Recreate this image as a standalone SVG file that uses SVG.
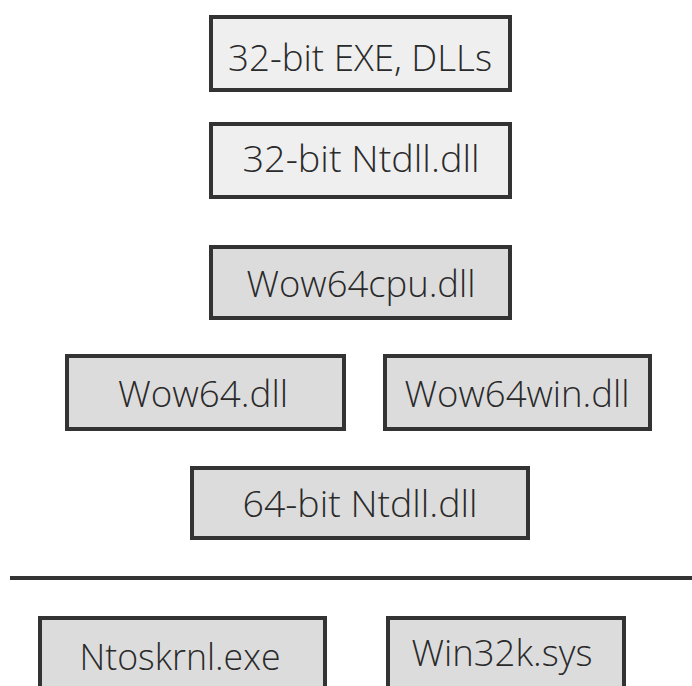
<svg xmlns="http://www.w3.org/2000/svg" width="692" height="686" viewBox="0 0 692 686">
<style>
.box{stroke:#333;stroke-width:4}
.light{fill:#efefef}
.dark{fill:#dcdcdc}
text{font-family:"Open Sans","Liberation Sans",sans-serif;font-size:36px;font-weight:300;fill:#2a2a2a;text-anchor:middle}
</style>
<rect width="692" height="686" fill="#fff"/>
<g id="exe32"><rect class="box light" x="211" y="17" width="299" height="73"/><text x="360" y="71" textLength="264" lengthAdjust="spacingAndGlyphs">32-bit EXE, DLLs</text></g>
<g id="ntdll32"><rect class="box light" x="211" y="124" width="299" height="73"/><text x="361" y="172" textLength="237" lengthAdjust="spacingAndGlyphs">32-bit Ntdll.dll</text></g>
<g id="wow64cpu"><rect class="box dark" x="211" y="247" width="299" height="71"/><text x="361" y="297" textLength="229" lengthAdjust="spacingAndGlyphs">Wow64cpu.dll</text></g>
<g id="wow64"><rect class="box dark" x="67" y="356" width="277" height="73"/><text x="203" y="407" textLength="170" lengthAdjust="spacingAndGlyphs">Wow64.dll</text></g>
<g id="wow64win"><rect class="box dark" x="385" y="356" width="265" height="73"/><text x="517" y="407" textLength="225" lengthAdjust="spacingAndGlyphs">Wow64win.dll</text></g>
<g id="ntdll64"><rect class="box dark" x="192" y="468" width="336" height="70"/><text x="360" y="517" textLength="235" lengthAdjust="spacingAndGlyphs">64-bit Ntdll.dll</text></g>
<g id="connectors"><line x1="10" y1="578" x2="692" y2="578" stroke="#333" stroke-width="4"/></g>
<g id="ntoskrnl"><rect class="box dark" x="40" y="618" width="285" height="80"/><text x="180" y="670" textLength="201" lengthAdjust="spacingAndGlyphs">Ntoskrnl.exe</text></g>
<g id="win32k"><rect class="box dark" x="388" y="618" width="236" height="80"/><text x="502" y="666" textLength="181" lengthAdjust="spacingAndGlyphs">Win32k.sys</text></g>
</svg>
